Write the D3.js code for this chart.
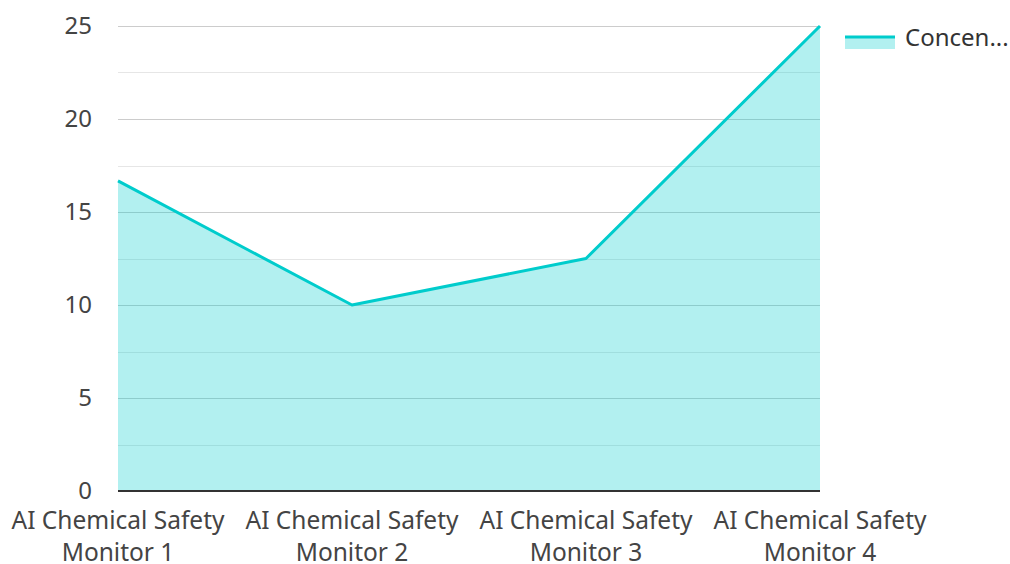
<!DOCTYPE html>
<html>
<head>
<meta charset="utf-8">
<script src="https://cdn.jsdelivr.net/npm/d3@7"></script>
<style>
  body { margin: 0; background: #fff; }
  text { font-family: "Noto Sans", "Open Sans", sans-serif; }
</style>
</head>
<body>
<div id="chart"></div>
<script>
var categories = [["AI Chemical Safety", "Monitor 1"], ["AI Chemical Safety", "Monitor 2"],
                  ["AI Chemical Safety", "Monitor 3"], ["AI Chemical Safety", "Monitor 4"]];
var values = [16.67, 10, 12.5, 25];
var majorTicks = [0, 5, 10, 15, 20, 25];
var minorTicks = [2.5, 7.5, 12.5, 17.5, 22.5];
var seriesName = "Concen...";

var width = 1010, height = 564;
var plotLeft = 118, plotRight = 820, plotTop = 26, plotBottom = 491;

var svg = d3.select("#chart").append("svg")
  .attr("width", width)
  .attr("height", height);

var x = d3.scalePoint()
  .domain(d3.range(categories.length))
  .range([plotLeft, plotRight]);

var y = d3.scaleLinear()
  .domain([0, 25])
  .range([plotBottom, plotTop]);

// minor grid
svg.selectAll(".minor")
  .data(minorTicks)
  .enter().append("line")
  .attr("x1", plotLeft).attr("x2", plotRight)
  .attr("y1", function(d){ return Math.round(y(d)) + 0.5; })
  .attr("y2", function(d){ return Math.round(y(d)) + 0.5; })
  .style("stroke", "#e6e6e6")
  .style("stroke-width", 1);

// major grid
svg.selectAll(".major")
  .data(majorTicks.filter(function(d){ return d > 0; }))
  .enter().append("line")
  .attr("x1", plotLeft).attr("x2", plotRight)
  .attr("y1", function(d){ return Math.round(y(d)) + 0.5; })
  .attr("y2", function(d){ return Math.round(y(d)) + 0.5; })
  .style("stroke", "#cccccc")
  .style("stroke-width", 1);

var area = d3.area()
  .x(function(d, i){ return x(i); })
  .y0(y(0))
  .y1(function(d){ return y(d); });

var line = d3.line()
  .x(function(d, i){ return x(i); })
  .y(function(d){ return y(d); });

svg.append("path")
  .datum(values)
  .attr("d", area)
  .style("fill", "#00cccc")
  .style("fill-opacity", 0.3);

svg.append("path")
  .datum(values)
  .attr("d", line)
  .style("fill", "none")
  .style("stroke", "#00cccc")
  .style("stroke-width", 3)
  .style("stroke-linejoin", "round");

// x axis line
svg.append("line")
  .attr("x1", plotLeft).attr("x2", plotRight)
  .attr("y1", plotBottom).attr("y2", plotBottom)
  .style("stroke", "#333")
  .style("stroke-width", 2);

// y tick labels
svg.selectAll(".ylab")
  .data(majorTicks)
  .enter().append("text")
  .attr("x", 92)
  .attr("y", function(d){ return y(d); })
  .attr("dy", "0.35em")
  .attr("text-anchor", "end")
  .attr("font-size", "24px")
  .attr("fill", "#444")
  .text(function(d){ return d; });

// x labels
var xl = svg.selectAll(".xlab")
  .data(categories)
  .enter().append("text")
  .attr("x", function(d, i){ return x(i); })
  .attr("y", 529)
  .attr("text-anchor", "middle")
  .attr("font-size", "24.5px")
  .attr("fill", "#444");
xl.append("tspan")
  .attr("x", function(d, i){ return x(i); })
  .text(function(d){ return d[0]; });
xl.append("tspan")
  .attr("x", function(d, i){ return x(i); })
  .attr("dy", 32)
  .text(function(d){ return d[1]; });

// legend
svg.append("rect")
  .attr("x", 845).attr("y", 36)
  .attr("width", 50).attr("height", 13)
  .style("fill", "#00cccc")
  .style("fill-opacity", 0.3);
svg.append("line")
  .attr("x1", 845).attr("x2", 895)
  .attr("y1", 37).attr("y2", 37)
  .style("stroke", "#00cccc")
  .style("stroke-width", 3);
svg.append("text")
  .attr("x", 905).attr("y", 38)
  .attr("dy", "0.35em")
  .attr("font-size", "24px")
  .attr("fill", "#333")
  .text(seriesName);
</script>
</body>
</html>
